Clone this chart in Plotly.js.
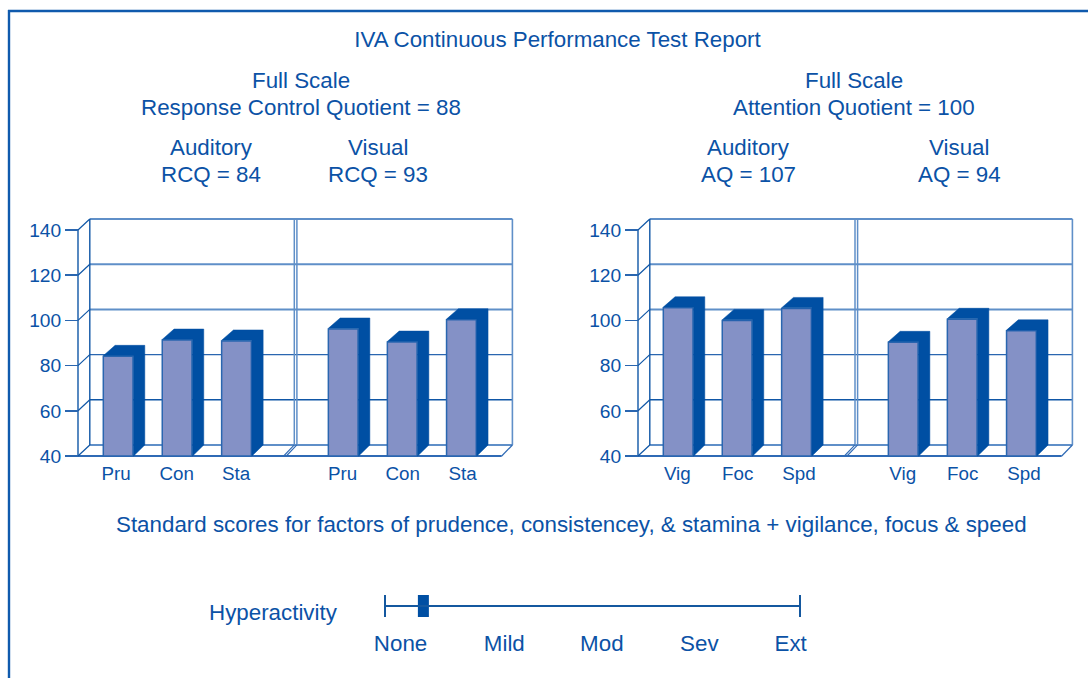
<!DOCTYPE html>
<html><head><meta charset="utf-8">
<script src="https://cdn.plot.ly/plotly-3.0.1.min.js"></script>
<style>html,body{margin:0;padding:0;background:#fff}</style></head>
<body><div id="chart" style="width:1088px;height:678px"></div>
<script>
const rcqLabels = ["Pru","Con","Sta","Pru","Con","Sta"];
const rcqValues = [84.1,91.3,90.9,96.2,90.4,100.3];
const aqLabels = ["Vig","Foc","Spd","Vig","Foc","Spd"];
const aqValues = [105.6,100,105.3,90.3,100.5,95.4];
const yTicks = [40,60,80,100,120,140];
const severityLabels = ["None","Mild","Mod","Sev","Ext"];
const severityTickPos = [0.15,1.15,2.09,3.03,3.91];
const hyperactivityValue = 0.37;

const W=1088,H=678;
const TXT="#0b52a6", DARK="#004fa3", FACE="#8491c6", EDGE="#2a66b0", GRID="#2a66b0", LIGHT="#5f8fc8";
const FONT="'Liberation Sans', Arial, sans-serif";
const px=x=>x/W, py=y=>1-y/H;
const slots=[40.15,99.1,158.5,265.2,324.2,383.4];
const rcqLabelPos=[38,98.7,158,264.7,324.7,384.5];
const aqLabelPos=[39.3,99.7,161,264.7,324.7,386];
const barW=29.7, dx=11.8, dy=4.87, yTop=144.87, unit=237/104.87, pad=3;

const traces=[], shapes=[];
function line(xa,ya,x0,y0,x1,y1,color,width){
  shapes.push({type:"line",layer:"below",xref:xa,yref:ya,x0,y0,x1,y1,line:{color,width}});
}
function panel(values,xa,ya,div){
  // back wall + floor
  yTicks.slice(1).forEach(t=>{
    const c=t>=100?LIGHT:GRID, w=t>=100?2:1.4;
    line(xa,ya,11.8,t+dy,434.4,t+dy,t<=60?"#0f56a6":c,w);
    line(xa,ya,0,t,11.8,t+dy,"#0f56a6",1.2);
  });
  line(xa,ya,11.8,40+dy,434.4,40+dy,LIGHT,2);
  line(xa,ya,0,40,423.7,40,"#2f6ab5",2);
  line(xa,ya,0,40,11.8,40+dy,"#0f56a6",1.2);
  line(xa,ya,0,40,0,140,"#0f56a6",1.4);
  line(xa,ya,11.8,40+dy,11.8,yTop,"#0f56a6",1.4);
  line(xa,ya,434.4,40+dy,434.4,yTop,LIGHT,1.6);
  line(xa,ya,423.7,40,434.4,40+dy,"#2f6ab5",1.2);
  [div,div+2.6].forEach(x=>{
    line(xa,ya,x,40+dy,x,yTop,LIGHT,1.5);
    line(xa,ya,x-10.6,40,x,40+dy,"#2f6ab5",1.1);
  });
  // depth faces
  const sx=[],sy=[];
  values.forEach((v,i)=>{
    const l=slots[i]-barW/2, r=slots[i]+barW/2, xr=r+0.6, vt=v+0.3;
    sx.push(l,l+dx,r+dx,r+dx,xr,xr,l,null);
    sy.push(vt,v+dy,v+dy,40+dy,40,vt,vt,null);
  });
  traces.push({type:"scatter",mode:"lines",xaxis:xa,yaxis:ya,x:sx,y:sy,fill:"toself",fillcolor:DARK,
    line:{color:DARK,width:0.5},hoverinfo:"skip",showlegend:false});
  // front faces
  traces.push({type:"bar",xaxis:xa,yaxis:ya,x:slots,y:values.map(v=>v-40),base:40,width:barW,hoverinfo:"skip",showlegend:false,
    marker:{color:FACE,line:{color:EDGE,width:1.5}}});
}
panel(rcqValues,"x","y",216.3);
panel(aqValues,"x2","y2",217);

// hyperactivity scale
traces.push({type:"scatter",mode:"lines",xaxis:"x3",yaxis:"y3",x:[0,0,0,4,4,4],y:[-1,1,0,0,1,-1],
  line:{color:"#14589f",width:2},hoverinfo:"skip",showlegend:false});
traces.push({type:"bar",xaxis:"x3",yaxis:"y3",x:[hyperactivityValue],y:[2],base:[-1],width:0.106,
  marker:{color:DARK,line:{width:0}},hoverinfo:"skip",showlegend:false});

const SIZE=22.35;
const texts=[
 ["Full Scale",301,81],["Response Control Quotient = 88",301,107.5],
 ["Auditory",211,148],["RCQ = 84",211,175],["Visual",378,148],["RCQ = 93",378,175],
 ["Full Scale",854,81],["Attention Quotient = 100",854,107.5],
 ["Auditory",748,148],["AQ = 107",748,175],["Visual",959,148],["AQ = 94",959,175],
 ["Standard scores for factors of prudence, consistencey, & stamina + vigilance, focus & speed",571,524.5],
 ["Hyperactivity",273.5,612.5]
];
const annotations=texts.map(([text,x,y])=>({text,x:px(x),y:py(y),xref:"paper",yref:"paper",
  xanchor:"center",yanchor:"middle",showarrow:false,font:{family:FONT,size:SIZE,color:TXT}}));

shapes.push({type:"line",xref:"paper",yref:"paper",x0:px(8),x1:1,y0:py(11),y1:py(11),line:{color:"#0f5aad",width:2.4}});
shapes.push({type:"line",xref:"paper",yref:"paper",x0:px(9),x1:px(9),y0:py(10),y1:0,line:{color:"#0f5aad",width:2.4}});

const yDomain=[py(456+pad),py(219-pad)], yRange=[40-pad/unit,yTop+pad/unit];
const yAxisBase=(axisX)=>({domain:yDomain,range:yRange,anchor:"free",position:px(axisX),tickmode:"array",tickvals:yTicks,ticktext:yTicks.map(String),
  ticks:"outside",ticklen:13,tickwidth:1.6,tickcolor:"#2a66b0",showgrid:false,zeroline:false,showline:false,
  tickfont:{family:FONT,size:19.2,color:TXT},fixedrange:true});
const xAxisBase=(left,labels,pos)=>({domain:[px(left-pad),px(left+435+pad)],range:[-pad,435+pad],anchor:"free",position:py(456),tickmode:"array",tickvals:pos,ticktext:labels,
  ticks:"",showgrid:false,zeroline:false,showline:false,tickfont:{family:FONT,size:18.8,color:TXT},ticklabelstandoff:4,fixedrange:true});

const layout={
 width:W,height:H,margin:{l:0,r:0,t:0,b:0},paper_bgcolor:"#fff",plot_bgcolor:"rgba(0,0,0,0)",showlegend:false,
 barmode:"overlay",font:{family:FONT,color:TXT},
 title:{text:"IVA Continuous Performance Test Report",x:px(557.5),xanchor:"center",y:py(39.3),yanchor:"middle",
   font:{family:FONT,size:SIZE,color:TXT}},
 xaxis:xAxisBase(78,rcqLabels,rcqLabelPos),
 yaxis:yAxisBase(78),
 xaxis2:xAxisBase(638,aqLabels,aqLabelPos),
 yaxis2:yAxisBase(638),
 xaxis3:{domain:[px(380),px(805)],range:[-5*4/415,4+5*4/415],anchor:"y3",tickmode:"array",tickvals:severityTickPos,ticktext:severityLabels,
   ticks:"",showgrid:false,zeroline:false,showline:false,tickfont:{family:FONT,size:SIZE,color:TXT},ticklabelstandoff:11,fixedrange:true},
 yaxis3:{domain:[py(617),py(595)],range:[-1,1],anchor:"x3",visible:false,fixedrange:true},
 annotations,shapes
};
Plotly.newPlot("chart",traces,layout,{displayModeBar:false,staticPlot:true});
</script></body></html>
